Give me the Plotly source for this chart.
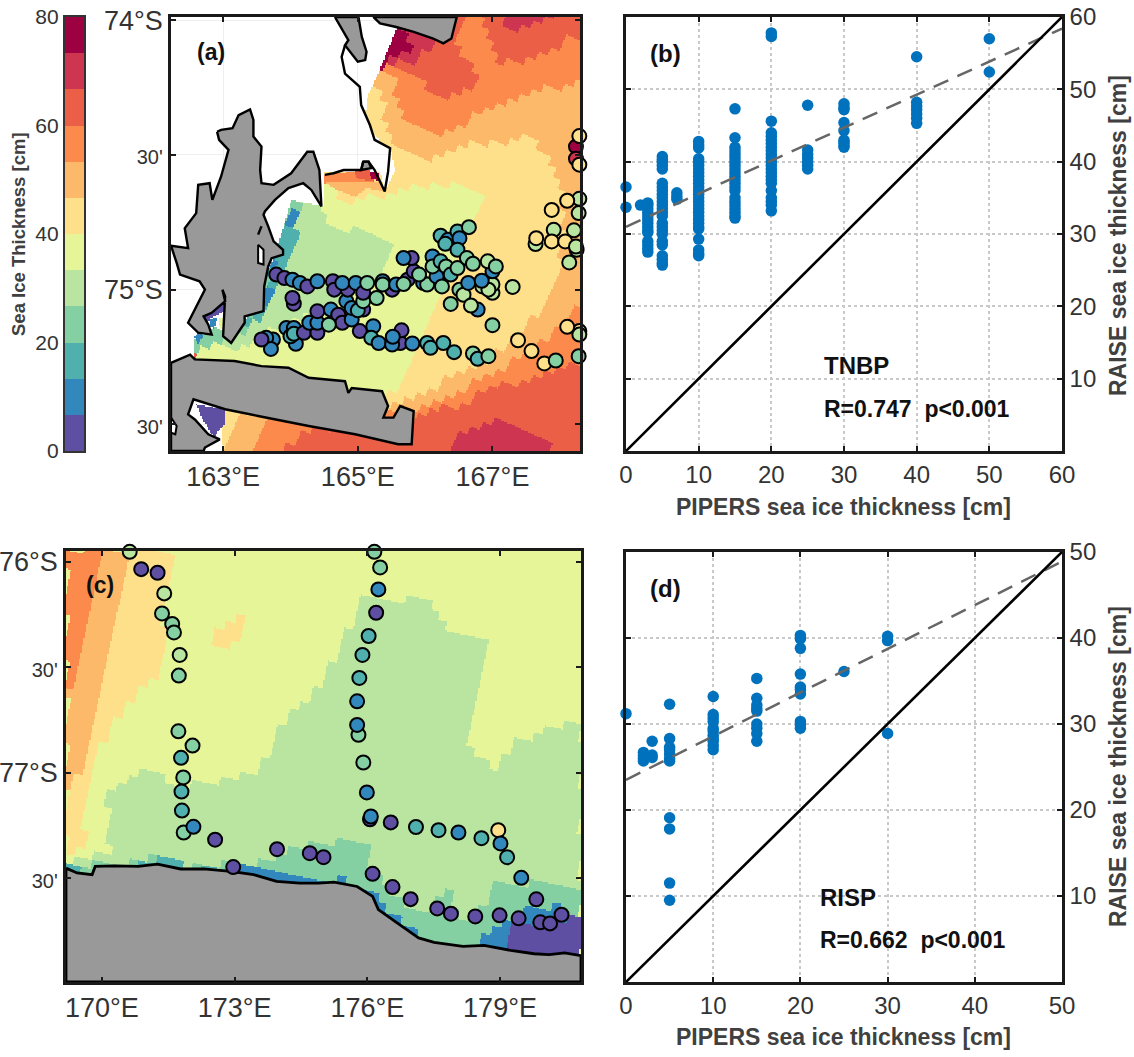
import numpy as np
import plotly.graph_objects as go

W, H = 1134, 1057

# ---------- colour classes of the thickness scale (cm) ----------
BAND_COLORS = ["#5e4fa2", "#3288bd", "#4fb0ae", "#84d0a2", "#b9e5a0", "#e6f598",
               "#fee08b", "#fdb96a", "#fc8a4d", "#ec5f47", "#cd3550", "#9e0142"]
SCALE_MAX = 80
SCALE_TICKS = [0, 20, 40, 60, 80]

# ---------- panel (a): modelled thickness regions, lon / lat ----------
A_DATA_AREA = [(165.66,-73.98),(165.35,-74.167),(165.13,-74.290),(165.11,-74.352),(165.18,-74.401),(165.33,-74.451),
    (165.50,-74.488),(165.55,-74.556),(165.40,-74.636),(165.33,-74.562),(164.49,-74.562),(164.51,-74.691),
    (164.01,-74.667),(163.75,-74.883),(163.63,-74.951),(163.34,-75.111),(162.58,-75.185),(162.58,-75.30),
    (163.03,-75.45),(162.97,-75.531),(163.00,-75.605),(168.34,-75.605),(168.34,-73.97)]
A_B8 = [(165.45,-74.161),(165.92,-74.198),(166.07,-74.253),(166.35,-74.284),(166.79,-74.228),(166.62,-74.142),
    (166.44,-74.068),(166.62,-74.000),(166.62,-73.97),(166.81,-73.97),(166.81,-74.000),(166.96,-74.093),
    (167.11,-74.161),(167.56,-74.136),(168.25,-74.062),(168.37,-74.056),(168.37,-75.272),(168.25,-75.272),
    (167.71,-75.315),(167.06,-75.364),(166.47,-75.426),(165.97,-75.469),(164.16,-75.531),(163.87,-75.593),
    (163.80,-75.617),(162.54,-75.617),(162.54,-74.161)]
A_B7 = [(165.31,-74.185),(165.63,-74.228),(165.53,-74.315),(165.83,-74.401),(166.22,-74.438),(166.72,-74.352),
    (167.26,-74.309),(167.56,-74.272),(168.20,-74.235),(168.37,-74.222),(168.37,-75.062),(168.25,-75.068),
    (168.00,-75.130),(167.65,-75.216),(167.16,-75.290),(166.57,-75.364),(166.07,-75.426),(165.88,-75.438),
    (163.68,-75.482),(163.47,-75.543),(163.42,-75.617),(162.54,-75.617),(162.54,-74.185)]
A_B6 = [(165.20,-74.235),(165.35,-74.278),(165.38,-74.401),(165.63,-74.475),(165.92,-74.525),(166.42,-74.475),
    (167.11,-74.451),(167.51,-74.432),(167.85,-74.500),(168.00,-74.586),(168.03,-74.957),(167.76,-75.043),
    (167.46,-75.154),(167.11,-75.228),(166.67,-75.290),(166.07,-75.364),(165.55,-75.426),(163.23,-75.457),
    (163.11,-75.519),(163.05,-75.617),(162.54,-75.617),(162.54,-74.235)]
A_B5 = [(164.59,-74.617),(164.83,-74.679),(165.57,-74.636),(166.27,-74.605),(166.91,-74.648),(166.57,-74.833),
    (165.85,-75.253),(165.45,-75.395),(164.83,-75.407),(162.54,-75.383),(162.54,-74.617)]
A_B4 = [(164.08,-74.630),(164.37,-74.630),(164.43,-74.716),(164.66,-74.765),(165.17,-74.784),(165.57,-74.846),
    (165.31,-74.951),(164.83,-75.037),(164.08,-75.111),(163.68,-75.160),(163.32,-75.210),(162.54,-75.210),(162.54,-74.630)]
A_B3 = [(164.04,-74.648),(164.16,-74.667),(164.07,-74.716),(164.07,-74.790),(163.97,-74.877),(163.87,-74.963),
    (163.72,-75.049),(163.62,-75.099),(163.32,-75.148),(162.97,-75.198),(162.63,-75.228),(162.42,-75.228),(162.42,-74.648)]
A_B2 = [(164.16,-74.704),(164.04,-74.772),(164.12,-74.796),(163.97,-74.870),(163.84,-74.951),(163.69,-75.049),
    (163.60,-75.086),(163.37,-75.136),(163.27,-75.136),(163.52,-75.049),(163.72,-74.877),(163.97,-74.704)]
A_B1_N = [(164.16,-74.704),(164.07,-74.716),(164.01,-74.765),(163.94,-74.759),(164.04,-74.710)]
A_B1_M = [(163.82,-74.883),(163.75,-74.920),(163.68,-74.914),(163.76,-74.883)]
A_B1_S = [(163.77,-74.981),(163.67,-75.074),(163.60,-75.068),(163.69,-74.981)]
A_B10_NW = [(165.63,-73.994),(166.12,-74.068),(166.12,-74.086),(165.98,-74.123),(165.83,-74.148),(165.63,-74.154),(165.40,-74.154),(165.17,-74.154),(165.17,-73.994)]
A_B10_NE = [(167.13,-73.97),(167.19,-74.049),(167.56,-74.031),(167.98,-73.97)]
A_B10_S = [(166.32,-75.586),(166.61,-75.512),(166.96,-75.482),(167.41,-75.500),(167.80,-75.562),(167.85,-75.617),(166.32,-75.617)]
A_B11_NW = [(165.65,-73.98),(165.75,-74.049),(165.80,-74.093),(165.63,-74.136),(165.40,-74.148),(165.34,-74.179),(165.17,-74.179),(165.17,-73.98)]

# small coastal patches kept at full resolution
A_P0 = [(162.71,-75.099),(163.06,-75.037),(163.09,-75.068),(162.91,-75.093),(162.81,-75.105),(162.76,-75.123)]
A_P0_S = [(162.60,-75.425),(163.03,-75.445),(163.02,-75.500),(162.85,-75.545),(162.70,-75.480)]
A_P1 = [(162.81,-75.111),(162.92,-75.099),(162.86,-75.142),(162.78,-75.136)]
A_P1_W = [(162.58,-75.173),(162.66,-75.154),(162.71,-75.173),(162.63,-75.198)]
A_P3 = [(162.71,-75.167),(162.88,-75.136),(162.97,-75.148),(162.73,-75.210)]
A_P5 = [(162.92,-75.105),(163.03,-75.105),(162.96,-75.148)]
A_P7 = [(164.51,-74.599),(165.33,-74.599),(165.40,-74.636),(165.13,-74.623),(164.96,-74.654),(164.68,-74.630)]
A_P8 = [(164.51,-74.574),(164.96,-74.559),(165.20,-74.593),(165.28,-74.605),(164.51,-74.605)]
A_P9 = [(164.94,-74.556),(165.18,-74.556),(165.25,-74.599),(164.98,-74.586)]
A_P11 = [(165.16,-74.559),(165.29,-74.562),(165.33,-74.599),(165.20,-74.586)]

# ---------- panel (a): land and coast ----------
A_LAND_PENINSULA = [(162.91,-74.414),(162.97,-74.407),(163.14,-74.401),(163.23,-74.352),(163.40,-74.331),(163.45,-74.370),
    (163.45,-74.432),(163.57,-74.469),(163.55,-74.556),(163.57,-74.605),(163.75,-74.611),(164.01,-74.568),(164.25,-74.488),
    (164.34,-74.488),(164.43,-74.556),(164.46,-74.691),(164.31,-74.630),(164.19,-74.605),(163.97,-74.623),(163.77,-74.667),
    (163.62,-74.710),(163.60,-74.722),(163.67,-74.765),(163.75,-74.821),(163.89,-74.852),(163.89,-74.870),(163.72,-74.883),
    (163.67,-74.914),(163.61,-74.988),(163.60,-75.080),(163.32,-75.099),(163.32,-75.123),(163.12,-75.198),(163.00,-75.173),
    (163.03,-75.025),(162.99,-75.000),(163.03,-75.043),(162.83,-75.086),(162.71,-75.099),(162.78,-75.130),(162.83,-75.167),
    (162.63,-75.160),(162.48,-75.123),(162.63,-75.049),(162.73,-75.000),(162.65,-74.969),(162.36,-74.944),(162.31,-74.901),
    (162.226,-74.837),(162.48,-74.846),(162.43,-74.772),(162.60,-74.716),(162.63,-74.611),(162.80,-74.605),(162.84,-74.667),
    (162.97,-74.580),(163.08,-74.481),(162.94,-74.444)]
A_LAND_SHELF = [(162.226,-75.272),(162.51,-75.241),(162.58,-75.259),(163.17,-75.265),(163.57,-75.284),(163.97,-75.290),
    (164.27,-75.327),(164.81,-75.340),(164.86,-75.383),(164.91,-75.365),(165.36,-75.377),(165.45,-75.432),(165.38,-75.475),
    (165.53,-75.475),(165.63,-75.432),(165.83,-75.451),(165.80,-75.574),(165.60,-75.574),(164.96,-75.537),(164.27,-75.506),
    (163.52,-75.469),(163.03,-75.444),(162.56,-75.407),(162.48,-75.463),(162.58,-75.482),(162.78,-75.537),(162.95,-75.556),
    (162.73,-75.586),(162.71,-75.599),(162.226,-75.599)]
A_LAND_TOP_W = [(164.66,-73.988),(164.86,-74.074),(164.81,-74.093),(165.00,-74.154),(165.11,-74.148),(165.13,-74.117),(165.06,-74.062),(165.01,-73.988)]
A_LAND_TOP_E = [(165.23,-73.988),(165.33,-74.012),(165.57,-74.025),(165.83,-74.043),(166.12,-74.068),(166.27,-74.086),(166.39,-74.068),(166.47,-73.988)]
A_LAND_KNOB = [(165.08,-74.525),(165.16,-74.525),(165.20,-74.549),(165.05,-74.556)]
A_COAST = [(164.81,-74.093),(164.76,-74.136),(164.81,-74.198),(165.03,-74.247),(165.05,-74.315),(165.18,-74.389),(165.25,-74.444),
    (165.48,-74.475),(165.45,-74.562),(165.40,-74.636),(165.33,-74.599),(165.25,-74.556),(165.16,-74.525),(165.08,-74.525),
    (165.05,-74.556),(164.79,-74.556),(164.64,-74.568),(164.51,-74.574)]
A_ISLET = [(163.52,-74.833),(163.60,-74.852),(163.60,-74.907),(163.52,-74.901)]
A_ISLET_W = [(162.226,-75.475),(162.31,-75.506),(162.29,-75.537),(162.226,-75.531)]
A_SLIT = [(163.57,-74.765),(163.52,-74.796)]

# ---------- panel (a): RAISE samples (lon, lat, thickness cm) ----------
A_SAMPLES = [
 (163.74,-75.185,10),(163.64,-75.179,10),(163.71,-75.220,10),(163.57,-75.185,3),(163.94,-75.142,10),(164.05,-75.142,10),
 (164.08,-75.201,10),(164.00,-75.173,17),(164.05,-75.164,17),(164.20,-75.160,3),(164.40,-75.160,3),(164.28,-75.123,10),
 (164.40,-75.123,10),(164.40,-75.080,3),(164.60,-75.074,10),(164.71,-75.093,3),(164.77,-75.123,3),(164.57,-75.130,23),
 (164.83,-75.043,10),(164.91,-75.111,10),(164.91,-75.068,10),(165.08,-75.074,3),(165.00,-75.077,17),(165.08,-75.043,23),
 (165.03,-75.154,3),(165.23,-75.136,10),(165.20,-75.179,17),(165.31,-75.198,10),(165.63,-75.198,3),(165.65,-75.151,3),
 (165.51,-75.204,10),(165.52,-75.175,10),(165.81,-75.200,10),(166.03,-75.198,17),(166.08,-75.216,17),(166.27,-75.198,17),
 (166.43,-75.232,17),(166.71,-75.237,23),(166.78,-75.257,17),(166.94,-75.247,23),(164.05,-75.052,3),(164.03,-75.031,3),
 (163.79,-74.944,3),(163.91,-74.957,3),(164.03,-74.963,10),(164.14,-74.975,10),(164.25,-74.988,3),(164.40,-74.969,10),
 (164.63,-74.969,3),(164.65,-75.000,3),(164.85,-75.000,3),(164.77,-74.975,10),(164.97,-74.975,10),(165.08,-75.012,3),
 (165.14,-74.975,23),(165.28,-75.031,23),(165.51,-75.000,3),(165.37,-74.969,10),(165.37,-74.981,23),(165.57,-74.981,10),
 (165.74,-74.963,3),(165.83,-74.932,3),(165.68,-74.979,23),(165.80,-74.883,3),(165.68,-74.883,10),(165.97,-74.975,10),
 (166.03,-74.981,23),(165.91,-74.944,23),(166.11,-74.877,10),(166.17,-74.951,10),(166.11,-74.914,23),(166.25,-74.988,23),
 (166.23,-74.895,17),(166.31,-74.914,23),(166.38,-74.944,17),(166.48,-74.920,23),(166.23,-74.800,17),(166.34,-74.815,10),
 (166.30,-74.830,17),(166.48,-74.784,17),(166.51,-74.809,10),(166.48,-74.852,17),(166.65,-74.768,23),(166.62,-74.883,23),
 (166.71,-74.904,23),(166.78,-75.074,10),(166.51,-75.000,23),(166.57,-75.019,30),(166.38,-75.053,23),(166.68,-75.059,30),
 (167.00,-75.012,30),(166.85,-74.988,30),(167.00,-74.981,30),(166.94,-75.000,30),(166.64,-74.975,10),(166.84,-74.967,10),
 (167.00,-74.932,10),(166.93,-74.895,30),(167.05,-74.914,23),(167.00,-75.132,23),(167.30,-74.990,30),
 (168.24,-74.469,77),(168.24,-74.514,70),(168.29,-74.430,43),(168.29,-74.536,43),(168.29,-74.663,30),(168.11,-74.670,43),
 (167.88,-74.704,43),(168.28,-74.716,30),(167.91,-74.778,30),(168.21,-74.780,30),(167.64,-74.831,30),(167.65,-74.809,43),
 (167.88,-74.821,43),(168.08,-74.821,43),(168.25,-74.852,30),(168.24,-74.840,30),(168.14,-74.899,30),(168.29,-75.154,43),
 (168.11,-75.138,43),(168.29,-75.167,30),(167.38,-75.188,43),(167.58,-75.228,43),(167.77,-75.274,43),(167.94,-75.263,23),
 (168.28,-75.247,23)]

# ---------- panel (c): modelled thickness regions, lon / lat ----------
C_B6 = [(169.19,-75.945),(171.69,-75.945),(171.56,-76.087),(171.43,-76.292),(171.26,-76.529),(170.56,-76.671),(170.04,-76.861),
    (169.78,-76.987),(169.57,-77.161),(169.65,-77.350),(169.19,-77.405)]
C_B6_PATCH = [(172.39,-76.387),(172.99,-76.253),(173.34,-76.300),(172.73,-76.418)]
C_B7 = [(169.19,-75.945),(170.61,-75.945),(170.39,-76.189),(170.26,-76.418),(169.78,-76.782),(169.61,-76.955),(169.26,-77.097),(169.19,-77.113)]
C_B8 = [(169.19,-75.945),(169.97,-75.945),(169.77,-76.205),(169.57,-76.403),(169.44,-76.561),(169.19,-76.616)]
C_B4 = [(169.19,-77.429),(169.26,-77.429),(170.17,-77.366),(170.13,-77.113),(170.91,-76.971),(171.61,-77.050),(172.21,-77.050),
    (173.60,-76.987),(173.95,-76.782),(174.64,-76.663),(175.25,-76.450),(175.95,-76.150),(176.73,-76.174),(177.42,-76.174),
    (177.81,-76.339),(178.64,-76.387),(178.25,-76.876),(178.90,-76.971),(179.33,-76.861),(180.55,-76.750),(180.83,-76.782),
    (180.83,-77.903),(169.19,-77.903)]
C_B3 = [(169.19,-77.437),(169.78,-77.429),(170.37,-77.437),(170.89,-77.405),(171.50,-77.397),(171.95,-77.445),(172.47,-77.429),
    (173.15,-77.421),(173.60,-77.421),(174.21,-77.374),(174.81,-77.334),(175.56,-77.326),(176.02,-77.342),(176.09,-77.461),
    (176.38,-77.540),(176.92,-77.626),(177.42,-77.650),(177.55,-77.595),(178.03,-77.552),(177.94,-77.611),(178.25,-77.729),
    (178.64,-77.626),(178.81,-77.492),(179.42,-77.516),(180.83,-77.555),(180.83,-77.903),(169.19,-77.903)]
C_B2 = [(170.30,-77.453),(170.89,-77.429),(171.50,-77.405),(172.04,-77.461),(172.52,-77.448),(172.91,-77.434),(173.60,-77.448),
    (174.12,-77.476),(174.64,-77.508),(174.64,-77.745),(170.30,-77.745)]
C_B2_W = [(169.19,-77.437),(169.70,-77.484),(169.19,-77.508)]
C_B1 = [(172.91,-77.461),(173.12,-77.437),(173.65,-77.461),(174.06,-77.468),(174.51,-77.484),(174.89,-77.524),(175.34,-77.500),
    (175.71,-77.532),(176.16,-77.579),(176.77,-77.705),(177.25,-77.784),(177.25,-77.887),(172.91,-77.887)]
C_B1_E = [(178.59,-77.824),(178.68,-77.761),(179.16,-77.697),(179.77,-77.634),(180.29,-77.634),(180.83,-77.697),(180.83,-77.903),(178.59,-77.903)]
C_B0_E = [(179.11,-77.816),(179.33,-77.713),(179.81,-77.729),(180.20,-77.697),(180.83,-77.690),(180.83,-77.903),(179.11,-77.903)]

# ---------- panel (c): land ----------
C_LAND = [(169.19,-77.453),(169.44,-77.476),(169.78,-77.484),(169.85,-77.445),(170.30,-77.442),(170.82,-77.445),(171.26,-77.434),
    (171.78,-77.457),(172.30,-77.457),(172.91,-77.468),(173.43,-77.484),(173.95,-77.516),(174.47,-77.524),(174.90,-77.524),
    (175.25,-77.519),(175.77,-77.540),(176.12,-77.587),(176.25,-77.650),(176.73,-77.721),(177.16,-77.784),(177.51,-77.805),
    (178.16,-77.824),(178.64,-77.819),(179.24,-77.843),(179.77,-77.859),(180.11,-77.863),(180.46,-77.855),(180.83,-77.868),
    (180.83,-77.993),(169.19,-77.993)]

# ---------- panel (c): RAISE samples (lon, lat, thickness cm) ----------
C_SAMPLES = [
 (170.63,-75.953,30),(170.89,-76.035,3),(171.26,-76.052,3),(171.41,-76.150,30),(171.36,-76.245,23),(171.59,-76.295,23),
 (171.63,-76.335,23),(171.76,-76.442,30),(171.74,-76.540,23),(171.73,-76.804,23),(172.05,-76.872,23),(171.79,-76.930,17),
 (171.84,-77.023,23),(171.80,-77.090,17),(171.81,-77.180,17),(171.85,-77.284,23),(172.07,-77.257,10),(172.56,-77.318,3),
 (173.96,-77.363,3),(174.70,-77.382,3),(175.01,-77.401,3),(172.97,-77.448,3),(176.16,-75.953,23),(176.29,-76.027,23),
 (176.25,-76.131,10),(176.20,-76.242,3),(176.03,-76.352,17),(175.89,-76.442,17),(175.82,-76.551,17),(175.77,-76.662,10),
 (175.80,-76.821,23),(175.77,-76.774,10),(175.91,-76.952,23),(175.99,-77.094,10),(176.06,-77.221,3),(176.08,-77.208,10),
 (176.53,-77.236,3),(177.10,-77.258,17),(177.61,-77.273,17),(178.06,-77.284,10),(178.58,-77.311,17),(178.96,-77.273,43),
 (179.01,-77.336,10),(179.16,-77.401,17),(179.48,-77.499,10),(179.82,-77.601,3),(176.12,-77.480,3),(176.57,-77.543,3),
 (176.98,-77.600,3),(177.58,-77.644,3),(177.89,-77.669,3),(178.44,-77.682,3),(178.99,-77.677,3),(179.42,-77.691,3),
 (179.91,-77.710,3),(180.13,-77.715,3),(180.39,-77.674,3)]

# ---------- panel (b): PIPERS class -> RAISE thickness ----------
B_BY_CLASS = {
 0: [36.5, 33.7],
 2: [34.0],
 3: [34.3,34,33.5,33,32.5,32,31.5,31,30.5,30.2,29,28.5,28,27.5],
 5: [40.7,40.3,40,39.5,39,37,36.5,36,35.5,35,34.5,34,33.5,33,32.5,31.5,31,30.5,30,29,28.5,27,26.5,26,25.7],
 7: [35.7,35.2,34.8],
 10: [42.8,42.3,41.9,40.4,40,39.5,39,38.5,38,37.5,37,36.5,36,35.5,35,34.5,34,33.5,33,32.5,32,31.5,31,30.7,29.3,27.8,27.3,27],
 15: [47.3,43.3,42,41.5,41,40.5,40,39.5,39,38.5,38,37.5,37,36.5,36,35,34.5,34,33.5,33,32.5,32.2],
 20: [57.8,57.3,45.6,44,43.5,43,42.5,42,41.5,41,40.5,40,39.5,39,38.5,38,37.5,37,36,35,34.5,34,33.2],
 25: [47.8,41.6,41,40.5,40,39.5,39],
 30: [48,47.5,47.2,45.4,44.3,43,42.7,42.3,42],
 40: [54.5,48.2,47.7,47.2,46.6,46,45.3],
 50: [57,52.4]}
B_FIT = ([0, 60], [31, 58.4])
B_ONE = ([0, 60], [0, 60])

# ---------- panel (d) ----------
D_BY_CLASS = {
 0: [31.2],
 2: [26.7,26.3,26,25.7],
 3: [28,26.4,26.1],
 5: [32.3,28.3,27.3,27,26.5,26,25.7,19.1,17.8,11.5,9.5],
 10: [33.2,31.1,30.7,30.3,29.5,29.2,28.7,28.3,28,27.5,27],
 15: [35.3,33,32.2,31.8,31.5,30,29.5,28.9,28],
 20: [40.3,39.9,38.8,35.8,34.3,34,33.5,30.3,29.9,29.5],
 25: [36.1],
 30: [40.2,39.7,28.9]}
D_FIT = ([0, 50], [23.5, 48.9])
D_ONE = ([0, 50], [0, 50])

# ---------- layout of the figure, pixels ----------
BOX_A = (171, 580, 17, 451)
BOX_B = (626, 1062, 17, 451)
BOX_C = (66, 581, 551, 982)
BOX_D = (626, 1062, 552, 982)
BOX_S = (65, 84, 17, 451)
RANGE_A = ((162.226, 168.30), (-75.599, -73.988))
RANGE_C = ((169.19, 180.83), (-77.993, -75.949))

def dom(box):
    l, r, t, b = box
    return dict(x=[l / W, r / W], y=[1 - b / H, 1 - t / H])


def inside(lon, lat, poly):
    p = np.array(poly)
    x0, y0 = p[:, 0], p[:, 1]
    x1, y1 = np.roll(x0, -1), np.roll(y0, -1)
    res = np.zeros(lon.shape, dtype=bool)
    for a, b, c, d in zip(x0, y0, x1, y1):
        if b == d:
            continue
        cond = (b > lat) != (d > lat)
        res ^= cond & (lon < (c - a) * (lat - b) / (d - b) + a)
    return res


def raster(box, rng, area, base, layers, patches, angle, cell):
    """Paint the regions on the model's slanted grid, then sample at screen resolution."""
    (x0, x1), (y0, y1) = rng
    nx = int((box[1] - box[0]) / 1.5)
    ny = int((box[3] - box[2]) / 1.5)
    lon = np.linspace(x0, x1, nx)
    lat = np.linspace(y0, y1, ny)
    LON, LAT = np.meshgrid(lon, lat)
    sx = (box[1] - box[0]) / (x1 - x0)
    sy = (box[3] - box[2]) / (y1 - y0)
    a = np.radians(angle)
    xp, yp = LON * sx, -LAT * sy
    u = np.round((np.cos(a) * xp + np.sin(a) * yp) / cell) * cell
    v = np.round((-np.sin(a) * xp + np.cos(a) * yp) / cell) * cell
    SLON = (np.cos(a) * u - np.sin(a) * v) / sx
    SLAT = -(np.sin(a) * u + np.cos(a) * v) / sy
    z = np.full(LON.shape, float(base))
    for band, poly in layers:
        z[inside(SLON, SLAT, poly)] = band
    if area is not None:
        z[~inside(LON, LAT, area)] = np.nan
    for band, poly in patches:
        z[inside(LON, LAT, poly)] = band
    z = (z + 0.5) * SCALE_MAX / len(BAND_COLORS)
    return lon, lat, z


fig = go.Figure()

# --- scale strip ---
band_edges = np.arange(len(BAND_COLORS)) + 0.5
fig.add_trace(go.Heatmap(x=[0], y=(band_edges * SCALE_MAX / len(BAND_COLORS)).tolist(),
                         z=[[v] for v in (band_edges * SCALE_MAX / len(BAND_COLORS)).tolist()],
                         coloraxis="coloraxis", xaxis="x5", yaxis="y5", hoverinfo="skip"))

# --- map (a) ---
lon_a, lat_a, z_a = raster(BOX_A, RANGE_A, A_DATA_AREA, 9,
    [(8, A_B8), (7, A_B7), (6, A_B6), (5, A_B5), (4, A_B4), (3, A_B3), (2, A_B2), (1, A_B1_N), (1, A_B1_M), (1, A_B1_S),
     (10, A_B10_NW), (10, A_B10_NE), (10, A_B10_S), (11, A_B11_NW)],
    [(8, A_P8), (7, A_P7), (9, A_P9), (11, A_P11), (0, A_P0), (0, A_P0_S), (3, A_P3), (1, A_P1), (1, A_P1_W), (5, A_P5)],
    24, 9)
fig.add_trace(go.Heatmap(x=lon_a, y=lat_a, z=z_a, coloraxis="coloraxis", xaxis="x", yaxis="y", hoverinfo="skip", hoverongaps=False))


def land(poly, ax, ay, fill="#999999", lw=2.4):
    p = list(poly) + [poly[0]]
    fig.add_trace(go.Scatter(x=[q[0] for q in p], y=[q[1] for q in p], mode="lines", fill="toself", fillcolor=fill,
                             line=dict(color="black", width=lw), xaxis=ax, yaxis=ay, hoverinfo="skip", showlegend=False))


for poly in (A_LAND_PENINSULA, A_LAND_SHELF, A_LAND_TOP_W, A_LAND_TOP_E, A_LAND_KNOB):
    land(poly, "x", "y")
land(A_ISLET, "x", "y", "white", 2)
land(A_ISLET_W, "x", "y", "white", 2)
for line in (A_COAST, A_SLIT):
    fig.add_trace(go.Scatter(x=[q[0] for q in line], y=[q[1] for q in line], mode="lines", line=dict(color="black", width=2.4),
                             xaxis="x", yaxis="y", hoverinfo="skip", showlegend=False))


def samples(rows, ax, ay):
    fig.add_trace(go.Scatter(x=[r[0] for r in rows], y=[r[1] for r in rows], mode="markers", cliponaxis=False,
                             marker=dict(size=14, color=[r[2] for r in rows], coloraxis="coloraxis",
                                         line=dict(color="black", width=2)),
                             xaxis=ax, yaxis=ay, showlegend=False))


samples(A_SAMPLES, "x", "y")

# --- map (c) ---
lon_c, lat_c, z_c = raster(BOX_C, RANGE_C, None, 5,
    [(6, C_B6), (6, C_B6_PATCH), (7, C_B7), (8, C_B8), (4, C_B4), (3, C_B3), (2, C_B2), (2, C_B2_W), (1, C_B1), (1, C_B1_E), (0, C_B0_E)],
    [], 12, 9)
fig.add_trace(go.Heatmap(x=lon_c, y=lat_c, z=z_c, coloraxis="coloraxis", xaxis="x3", yaxis="y3", hoverinfo="skip"))
land(C_LAND, "x3", "y3", lw=2.8)
samples(C_SAMPLES, "x3", "y3")


# --- scatter panels ---
def compare(by_class, fit, one, ax, ay):
    xs, ys = [], []
    for k, vals in by_class.items():
        xs += [k] * len(vals)
        ys += vals
    fig.add_trace(go.Scatter(x=xs, y=ys, mode="markers", cliponaxis=False, marker=dict(size=11.5, color="#0072bd"),
                             xaxis=ax, yaxis=ay, showlegend=False))
    fig.add_trace(go.Scatter(x=fit[0], y=fit[1], mode="lines", line=dict(color="#666666", width=2.5, dash="16px,10px"),
                             xaxis=ax, yaxis=ay, showlegend=False))
    fig.add_trace(go.Scatter(x=one[0], y=one[1], mode="lines", line=dict(color="black", width=2.6),
                             xaxis=ax, yaxis=ay, showlegend=False))


compare(B_BY_CLASS, B_FIT, B_ONE, "x2", "y2")
compare(D_BY_CLASS, D_FIT, D_ONE, "x4", "y4")

# --- axes ---
TXT = "#333333"
FRAME = dict(showline=True, linecolor="#1a1a1a", linewidth=2.6, mirror="allticks", ticks="inside", tickcolor="#1a1a1a",
             tickwidth=2, ticklen=5, zeroline=False, automargin=False,
             tickfont=dict(family="Liberation Sans", size=27, color=TXT))
MAPGRID = dict(showgrid=True, gridcolor="#eeeeee", gridwidth=1)
big = "<span style='font-size:27px'>%s</span>"
small = "<span style='font-size:20px'>%s</span>"

fig.update_layout(
    width=W, height=H, autosize=False, margin=dict(l=0, r=0, t=0, b=0, autoexpand=False), paper_bgcolor="white", plot_bgcolor="white",
    showlegend=False,
    coloraxis=dict(cmin=0, cmax=SCALE_MAX, showscale=False,
                   colorscale=[s for i, c in enumerate(BAND_COLORS)
                               for s in ([i / len(BAND_COLORS), c], [(i + 1) / len(BAND_COLORS), c])]),
    xaxis=dict(domain=dom(BOX_A)["x"], range=list(RANGE_A[0]), tickvals=[163, 165, 167], ticktext=["163°E", "165°E", "167°E"],
               anchor="y", **FRAME, **MAPGRID),
    yaxis=dict(domain=dom(BOX_A)["y"], range=list(RANGE_A[1]), tickvals=[-74, -74.5, -75, -75.5],
               ticktext=[big % "74°S", small % "30'", big % "75°S", small % "30'"], anchor="x", **FRAME, **MAPGRID),
    xaxis3=dict(domain=dom(BOX_C)["x"], range=list(RANGE_C[0]), tickvals=[170, 173, 176, 179],
                ticktext=["170°E", "173°E", "176°E", "179°E"], anchor="y3", **FRAME, **MAPGRID),
    yaxis3=dict(domain=dom(BOX_C)["y"], range=list(RANGE_C[1]), tickvals=[-76, -76.5, -77, -77.5],
                ticktext=[big % "76°S", small % "30'", big % "77°S", small % "30'"], anchor="x3", **FRAME, **MAPGRID),
    xaxis5=dict(domain=dom(BOX_S)["x"], showticklabels=False, ticks="", showline=True, mirror=True, linecolor="#333333",
                linewidth=2.4, range=[-0.5, 0.5], anchor="y5", showgrid=False, zeroline=False, automargin=False),
    yaxis5=dict(domain=dom(BOX_S)["y"], range=[0, SCALE_MAX], tickvals=SCALE_TICKS, showline=True, mirror=True,
                linecolor="#333333", linewidth=2.4, ticks="", showgrid=False, zeroline=False, anchor="x5", automargin=False,
                tickfont=dict(family="Liberation Sans", size=21, color=TXT)),
)

GRID = dict(showgrid=True, gridcolor="#c9c9c9", gridwidth=2, griddash="dot")
SFRAME = dict(FRAME)
SFRAME["tickfont"] = dict(family="Liberation Sans", size=24, color=TXT)
for xn, yn, box, mx, xt in (("xaxis2", "yaxis2", BOX_B, 60, list(range(0, 61, 10))), ("xaxis4", "yaxis4", BOX_D, 50, list(range(0, 51, 10)))):
    yt = xt[1:]
    fig.update_layout(**{
        xn: dict(domain=dom(box)["x"], range=[0, mx], tickvals=xt, anchor=yn.replace("axis", ""), **SFRAME, **GRID),
        yn: dict(domain=dom(box)["y"], range=[0, mx], tickvals=yt, side="right", anchor=xn.replace("axis", ""), **SFRAME, **GRID),
    })


def axis_title(text, px, py, size, angle=0):
    fig.add_annotation(text="<b>%s</b>" % text, x=px / W, y=1 - py / H, xref="paper", yref="paper", xanchor="center", yanchor="middle",
                       textangle=angle, showarrow=False, font=dict(family="Liberation Sans", size=size, color="#404040"))


axis_title("Sea Ice Thickness [cm]", 18, 234, 18.5, -90)
axis_title("PIPERS sea ice thickness [cm]", 843, 507, 23)
axis_title("PIPERS sea ice thickness [cm]", 843, 1037, 23)
axis_title("RAISE sea ice thickness [cm]", 1118, 236, 23, -90)
axis_title("RAISE sea ice thickness [cm]", 1118, 767, 23, -90)

NOTE = dict(family="Liberation Sans", color="#111111")
def note(text, x, y, ax, ay, size):
    fig.add_annotation(text="<b>%s</b>" % text, x=x, y=y, xref=ax, yref=ay, xanchor="left", yanchor="middle",
                       showarrow=False, font=dict(size=size, **NOTE))

note("(a)", 162.58, -74.117, "x", "y", 23)
note("(b)", 3.0, 54.9, "x2", "y2", 24)
note("(c)", 169.59, -76.11, "x3", "y3", 23)
note("(d)", 2.5, 45.7, "x4", "y4", 24)
note("TNBP", 27, 11.86, "x2", "y2", 24)
note("R=0.747\u00a0\u00a0p&lt;0.001", 27, 5.77, "x2", "y2", 23)
note("RISP", 22, 9.87, "x4", "y4", 24)
note("R=0.662\u00a0\u00a0p&lt;0.001", 22, 4.86, "x4", "y4", 23)

fig.write_html("out.html", config={"displayModeBar": False},
               post_script="document.body.style.margin='0';document.body.style.overflow='hidden';")
